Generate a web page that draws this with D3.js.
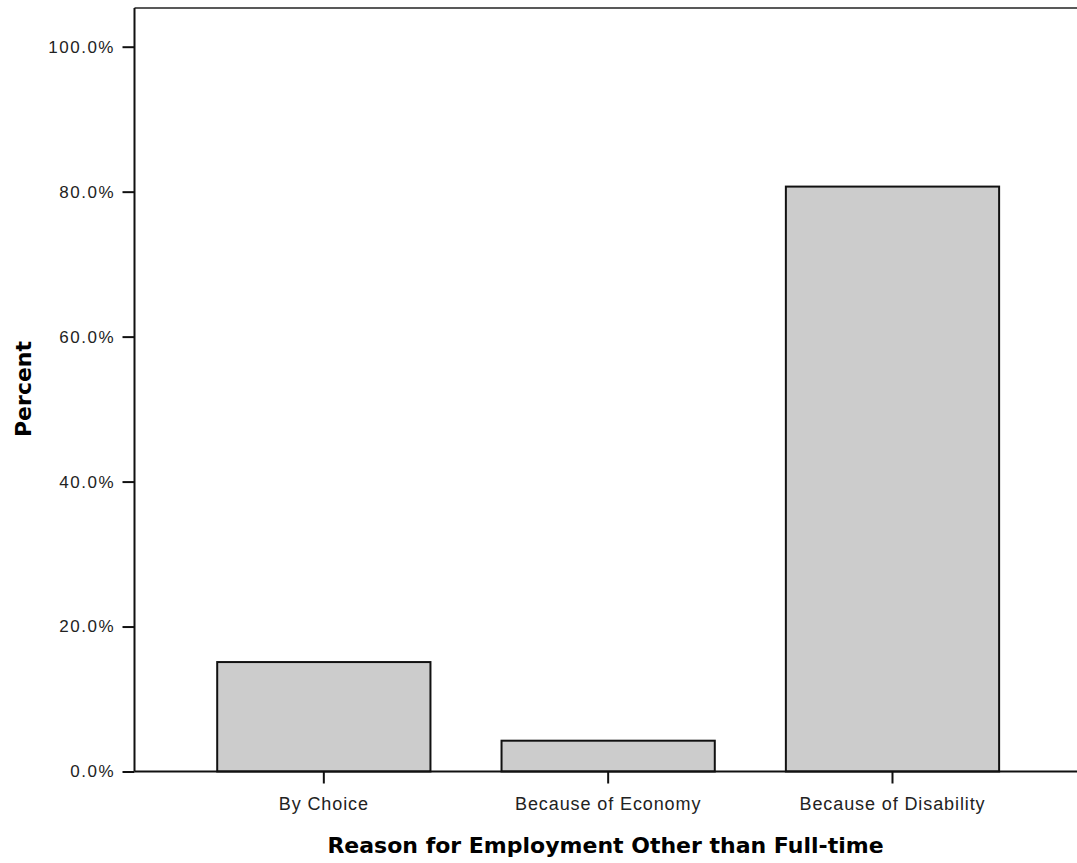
<!DOCTYPE html>
<html>
<head>
<meta charset="utf-8">
<script src="https://cdn.jsdelivr.net/npm/d3@7"></script>
<style>
  html, body { margin: 0; padding: 0; background: #fff; }
  svg { display: block; }
</style>
</head>
<body>
<svg id="chart" width="1077" height="863"></svg>
<script>
const categories = ["By Choice", "Because of Economy", "Because of Disability"];
const percentValues = [15.1, 4.25, 80.7];
const yTickValues = [0, 20, 40, 60, 80, 100];
const xTitle = "Reason for Employment Other than Full-time";
const yTitle = "Percent";

const svg = d3.select("#chart");
const plotLeft = 134.5, plotRight = 1077, plotTop = 8, plotBottom = 771.5;

const y = d3.scaleLinear().domain([0, 100]).range([plotBottom, 46.7]);
const x = d3.scaleBand().domain(categories).range([135, 1075])
  .paddingInner(0.25).paddingOuter(0.278).align(0.52);

// top frame line
svg.append("line")
  .attr("x1", plotLeft).attr("x2", plotRight)
  .attr("y1", plotTop).attr("y2", plotTop)
  .attr("stroke", "#222").attr("stroke-width", 1.5);

// bars
svg.append("g").selectAll("rect")
  .data(categories)
  .join("rect")
  .attr("x", d => x(d))
  .attr("width", x.bandwidth())
  .attr("y", (d, i) => y(percentValues[i]))
  .attr("height", (d, i) => plotBottom - y(percentValues[i]))
  .attr("fill", "#cccccc")
  .attr("stroke", "#111")
  .attr("stroke-width", 2);

// y axis
const yAxis = d3.axisLeft(y).tickValues(yTickValues)
  .tickFormat(d => d3.format(".1f")(d) + "%")
  .tickSize(12).tickPadding(7.5);
const gy = svg.append("g").attr("transform", `translate(${plotLeft},0)`).call(yAxis);
gy.attr("font-family", null).attr("font-size", null);
gy.select(".domain").attr("d", `M0,${plotTop}V${plotBottom}`).attr("stroke-width", 2).attr("stroke", "#111");
gy.selectAll(".tick line").attr("stroke-width", 2).attr("stroke", "#111");
gy.selectAll(".tick text")
  .style("font-family", "'Liberation Sans', Arial, sans-serif")
  .style("font-size", "17px")
  .style("letter-spacing", "1.5px")
  .attr("fill", "#222");

// x axis
const xAxis = d3.axisBottom(x).tickSize(12).tickPadding(13.5);
const gx = svg.append("g").attr("transform", `translate(0,${plotBottom})`).call(xAxis);
gx.attr("font-family", null).attr("font-size", null);
gx.select(".domain").attr("d", `M${plotLeft},0H${plotRight}`).attr("stroke-width", 2).attr("stroke", "#111");
gx.selectAll(".tick line").attr("stroke-width", 2).attr("stroke", "#111");
gx.selectAll(".tick text")
  .style("font-family", "'Liberation Sans', Arial, sans-serif")
  .style("font-size", "18px")
  .style("letter-spacing", "0.9px")
  .attr("fill", "#222");

// axis titles
svg.append("text")
  .attr("x", 605.5).attr("y", 853)
  .attr("text-anchor", "middle")
  .style("font-family", "'DejaVu Sans', Verdana, sans-serif")
  .style("font-size", "22px").style("font-weight", "bold")
  .attr("fill", "#000")
  .text(xTitle);

svg.append("text")
  .attr("transform", "translate(31,389) rotate(-90)")
  .attr("text-anchor", "middle")
  .style("font-family", "'DejaVu Sans', Verdana, sans-serif")
  .style("font-size", "22px").style("font-weight", "bold")
  .attr("fill", "#000")
  .text(yTitle);
</script>
</body>
</html>
